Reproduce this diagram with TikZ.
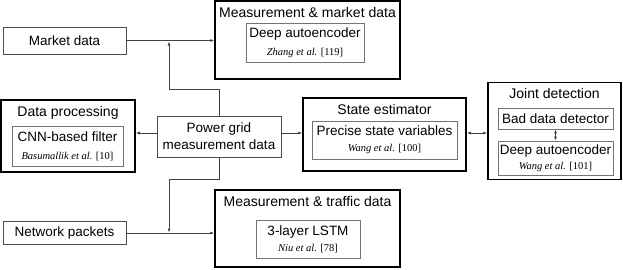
\documentclass[tikz,border=0pt]{standalone}
\usepackage{fontspec}
\setmainfont{Liberation Sans}
\newfontfamily\refserif{Liberation Serif}
\usetikzlibrary{arrows.meta,positioning}

\newcommand{\refcite}[2]{{\refserif\fontsize{10.5}{12}\selectfont\textit{#1} [#2]}}

\tikzset{
  outerbox/.style={draw=black, line width=1.5pt, inner sep=0pt},
  innerbox/.style={draw=black!55, line width=0.8pt, align=center, inner sep=0pt},
  srcbox/.style={draw=black!70, line width=0.8pt, align=center, inner sep=0pt},
  boxtitle/.style={font=\fontsize{14}{16}\selectfont, inner sep=1pt, below=5.5pt},
  link/.style={draw=black!75, line width=0.8pt, -{Latex[length=4pt,width=3pt]}},
  dlink/.style={draw=black!75, line width=0.8pt, {Latex[length=4pt,width=3pt]}-{Latex[length=4pt,width=3pt]}},
}

\begin{document}
\begin{tikzpicture}[x=1pt, y=-1pt, font=\fontsize{13.5}{17}\selectfont]
    \useasboundingbox (0,0) rectangle (623,269);
    % Data sources
    \node[srcbox, minimum width=123pt, minimum height=27pt] (market) at (64.5,40.5) {Market data};
    \node[srcbox, minimum width=123pt, minimum height=23pt] (network) at (64.5,233) {Network packets};
    \node[srcbox, minimum width=124pt, minimum height=41pt] (grid) at (219,136.5) {Power grid\\measurement data};
    % Outer groups
    \node[outerbox, minimum width=185pt, minimum height=78pt] (mmkt) at (307.5,40) {};
    \node[outerbox, minimum width=134pt, minimum height=72pt] (dproc) at (68,136) {};
    \node[outerbox, minimum width=163pt, minimum height=73pt] (state) at (384.5,134.5) {};
    \node[outerbox, minimum width=133pt, minimum height=97pt] (joint) at (554.5,131) {};
    \node[outerbox, minimum width=185pt, minimum height=77pt] (mtrf) at (307.5,228.5) {};
    % Group titles
    \node[boxtitle] (mmkttitle) at (mmkt.north) {Measurement \& market data};
    \node[boxtitle] (dproctitle) at (dproc.north) {Data processing};
    \node[boxtitle] (statetitle) at (state.north) {State estimator};
    \node[boxtitle] (jointtitle) at (joint.north) {Joint detection};
    \node[boxtitle] (mtrftitle) at (mtrf.north) {Measurement \& traffic data};
    % Methods
    \node[innerbox, minimum width=118pt, minimum height=39pt] (mmktae) at (305,42.5) {Deep autoencoder\\[1pt]\refcite{Zhang et al.}{119}};
    \node[innerbox, minimum width=111pt, minimum height=40pt] (cnn) at (67.5,146) {CNN-based filter\\[1pt]\refcite{Basumallik et al.}{10}};
    \node[innerbox, minimum width=145pt, minimum height=38pt] (precise) at (384.5,140) {Precise state variables\\[-1pt]\refcite{Wang et al.}{100}};
    \node[innerbox, minimum width=115pt, minimum height=21pt] (bad) at (555.5,118.5) {Bad data detector};
    \node[innerbox, minimum width=115pt, minimum height=34pt] (jointae) at (555.5,158) {Deep autoencoder\\[-2pt]\refcite{Wang et al.}{101}};
    \node[innerbox, minimum width=104pt, minimum height=38pt] (lstm) at (308,239) {3-layer LSTM\\[-1pt]\refcite{Niu et al.}{78}};
    % Connectors
    \coordinate (upbend) at (219,89);
    \coordinate (upjoin) at (169,41.5);
    \coordinate (downbend) at (219,179);
    \coordinate (downjoin) at (169,232.5);
    \coordinate[yshift=3.5pt] (gridw) at (grid.west);
    \coordinate[yshift=3.5pt] (gride) at (grid.east);
    \coordinate[yshift=1.5pt] (statee) at (state.east);
    \draw[link] (market.east) -- (market.east -| mmkt.west);
    \draw[link] (network.east) -- (network.east -| mtrf.west);
    \draw[link] (grid.north) -- (upbend) -| (upjoin);
    \draw[link] (grid.south) -- (downbend) -| (downjoin);
    \draw[link] (gridw) -- (gridw -| dproc.east);
    \draw[link] (gride) -- (gride -| state.west);
    \draw[dlink] (statee) -- (statee -| joint.west);
    \draw[dlink] (bad.south) -- (jointae.north);
\end{tikzpicture}
\end{document}
